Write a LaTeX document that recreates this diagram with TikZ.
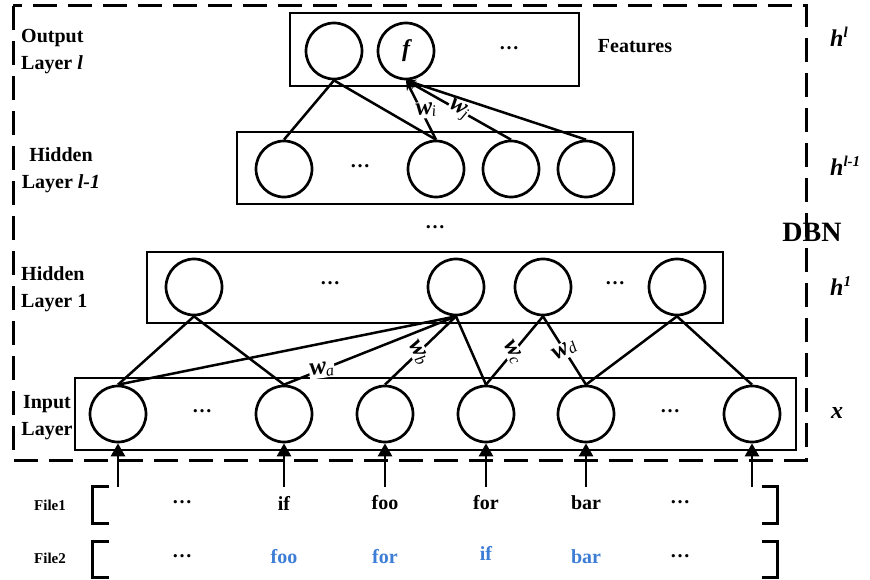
\documentclass[tikz,border=0pt]{standalone}
\usepackage{fontspec}
\setmainfont{Liberation Serif}
\usetikzlibrary{arrows.meta}
\definecolor{wordblue}{RGB}{61,125,214}
\newcommand{\wlab}[1]{{\fontsize{25}{25}\selectfont\bfseries\itshape w}\kern-1pt\raisebox{-3pt}{\fontsize{16}{16}\selectfont\itshape #1}}
\newcommand{\hlab}[1]{{\fontsize{24}{24}\selectfont\bfseries\itshape h}\raisebox{9pt}{\fontsize{15}{15}\selectfont\bfseries\itshape #1}}
\begin{document}
\begin{tikzpicture}[x=1pt,y=-1pt,
  neuron/.style={circle,draw,line width=2.7pt,minimum size=56pt,inner sep=0pt},
  layerbox/.style={draw,line width=2.7pt,inner sep=0pt},
  conn/.style={line width=2.5pt},
  upconn/.style={conn,-{Stealth[length=10pt,width=8pt]}},
  inarrow/.style={line width=2.7pt,-{Triangle[length=13pt,width=14pt]}},
  wnode/.style={fill=white,inner sep=1pt},
  sidelbl/.style={font=\fontsize{20}{27}\selectfont\bfseries,inner sep=0pt},
  dotsl/.style={font=\fontsize{20}{20}\selectfont\bfseries,inner sep=0pt},
  word/.style={font=\fontsize{20}{20}\selectfont\bfseries,inner sep=0pt},
  fileword/.style={font=\fontsize{15}{15}\selectfont\bfseries,inner sep=0pt},
  bracket/.style={line width=3pt}]
\useasboundingbox (0,0) rectangle (870,580);

% DBN frame
\draw[line width=3pt,dash pattern=on 24pt off 11pt] (13,6) rectangle (806,460);

% layer boxes
\node[layerbox,minimum width=289pt,minimum height=73pt] (outbox) at (434.5,49.5) {};
\node[layerbox,minimum width=396pt,minimum height=72pt] (pbox) at (435,168) {};
\node[layerbox,minimum width=576pt,minimum height=71pt] (qbox) at (435,287.5) {};
\node[layerbox,minimum width=721pt,minimum height=72pt] (rbox) at (435.5,414) {};

% output layer l
\node[neuron] (o1) at (334,51) {};
\node[neuron,font=\fontsize{24}{24}\selectfont\bfseries\itshape] (o2) at (406,51) {f};
\node[dotsl] (od) at (509,48) {\ldots};
\node[sidelbl] (feat) at (635,46) {Features};

% hidden layer l-1
\node[neuron] (p1) at (284,169) {};
\node[neuron] (p2) at (436,169) {};
\node[neuron] (p3) at (511,169) {};
\node[neuron] (p4) at (586,169) {};
\node[dotsl] (pd) at (360,166) {\ldots};

\node[dotsl] (midd) at (435,227) {\ldots};

% hidden layer 1
\node[neuron] (q1) at (194,287) {};
\node[neuron] (q2) at (456,287) {};
\node[neuron] (q3) at (543,287) {};
\node[neuron] (q4) at (677,287) {};
\node[dotsl] (qd1) at (330,283) {\ldots};
\node[dotsl] (qd2) at (615,283) {\ldots};

% input layer
\node[neuron] (r1) at (118,414) {};
\node[neuron] (r2) at (284,414) {};
\node[neuron] (r3) at (385,414) {};
\node[neuron] (r4) at (486,414) {};
\node[neuron] (r5) at (586,414) {};
\node[neuron] (r6) at (752,414) {};
\node[dotsl] (rd1) at (202,411) {\ldots};
\node[dotsl] (rd2) at (670,411) {\ldots};

% connections l-1 -> l
\draw[conn] (o1.south) -- (p1.north);
\draw[conn] (o1.south) -- (p2.north);
\draw[upconn] (p2.north) -- node[wnode,pos=0.5,xshift=5pt,rotate=5] {\wlab{i}} (o2.south);
\draw[upconn] (p3.north) -- node[wnode,pos=0.5,rotate=-30] {\wlab{j}} (o2.south);
\draw[upconn] (p4.north) -- (o2.south);

% connections input -> hidden 1
\draw[conn] (q1.south) -- (r1.north);
\draw[conn] (q1.south) -- (r2.north);
\draw[conn] (r1.north) -- (q2.south);
\draw[conn] (r2.north) -- node[wnode,pos=0.22,rotate=8] {\wlab{a}} (q2.south);
\draw[conn] (r3.north) -- node[wnode,pos=0.47,rotate=-60] {\wlab{b}} (q2.south);
\draw[conn] (q2.south) -- (r4.north);
\draw[conn] (r4.north) -- node[wnode,pos=0.47,rotate=-60] {\wlab{c}} (q3.south);
\draw[conn] (r5.north) -- node[wnode,pos=0.5,rotate=30] {\wlab{d}} (q3.south);
\draw[conn] (q4.south) -- (r5.north);
\draw[conn] (q4.south) -- (r6.north);

% layer names
\node[sidelbl,anchor=west,align=left] (lo) at (21,52) {Output\\Layer \textit{l}};
\node[sidelbl,align=center] (lp) at (61,170) {Hidden\\Layer \textit{l-1}};
\node[sidelbl,anchor=west,align=left] (lq) at (21,289) {Hidden\\Layer 1};
\node[sidelbl,align=center] (lr) at (47,418) {Input\\Layer};

% right-hand labels
\node[anchor=west,inner sep=0pt] (hl) at (830,37) {\hlab{l}};
\node[anchor=west,inner sep=0pt] (hp) at (830,166) {\hlab{l-1}};
\node[font=\fontsize{28}{28}\selectfont\bfseries,inner sep=0pt] (dbn) at (812,232) {DBN};
\node[anchor=west,inner sep=0pt] (h1) at (830,286) {\hlab{1}};
\node[anchor=west,inner sep=0pt,font=\fontsize{24}{24}\selectfont\bfseries\itshape] (hx) at (831,413) {x};

% source token rows
\node[fileword] (f1) at (50,505) {File1};
\node[fileword] (f2) at (50,558) {File2};
\draw[bracket] (109,486) -- (92,486) -- (92,523) -- (109,523);
\draw[bracket] (762,486) -- (777,486) -- (777,523) -- (762,523);
\draw[bracket] (109,541) -- (92,541) -- (92,577) -- (109,577);
\draw[bracket] (762,541) -- (777,541) -- (777,577) -- (762,577);

\node[word] (a0) at (182,502) {\ldots};
\node[word] (a1) at (284,503) {if};
\node[word] (a2) at (385,503) {foo};
\node[word] (a3) at (486,503) {for};
\node[word] (a4) at (586,503) {bar};
\node[word] (a5) at (680,502) {\ldots};

\node[word] (b0) at (182,556) {\ldots};
\node[word,text=wordblue] (b1) at (284,557) {foo};
\node[word,text=wordblue] (b2) at (385,557) {for};
\node[word,text=wordblue] (b3) at (486,553) {if};
\node[word,text=wordblue] (b4) at (586,557) {bar};
\node[word] (b5) at (680,556) {\ldots};

% token inputs
\coordinate (s1) at (118,487);
\coordinate (s2) at (284,487);
\coordinate (s3) at (385,487);
\coordinate (s4) at (486,487);
\coordinate (s5) at (586,487);
\coordinate (s6) at (752,487);
\foreach \i in {1,...,6} \draw[inarrow] (s\i) -- (r\i.south);
\end{tikzpicture}
\end{document}
